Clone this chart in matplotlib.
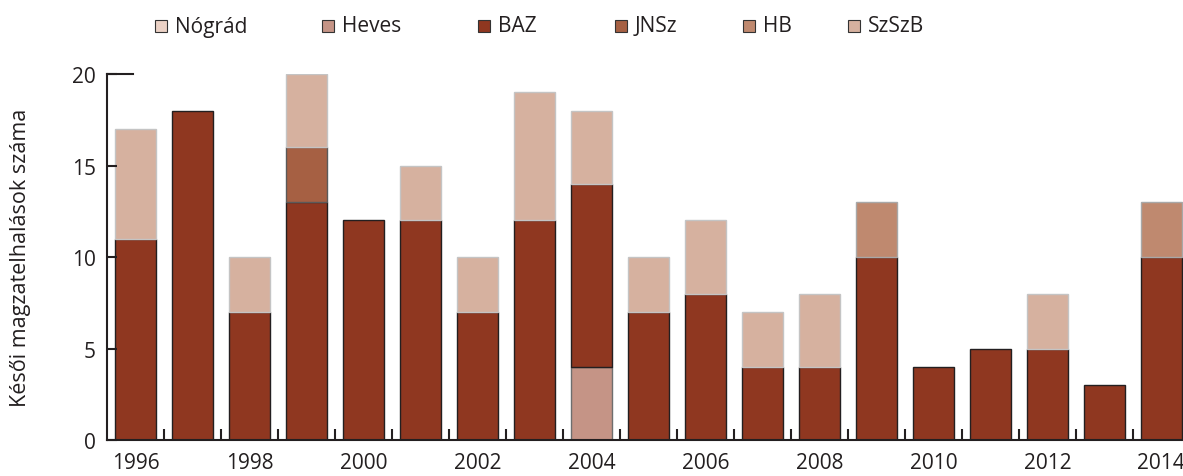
import numpy as np
import matplotlib
matplotlib.use("Agg")
import matplotlib.pyplot as plt
from matplotlib.patches import Rectangle

# Adatok (megyék szerinti késői magzatelhalások)
years = np.arange(1996, 2015)
nograd = [0, 0, 0, 0, 0, 0, 0, 0, 0, 0, 0, 0, 0, 0, 0, 0, 0, 0, 0]
heves = [0, 0, 0, 0, 0, 0, 0, 0, 4, 0, 0, 0, 0, 0, 0, 0, 0, 0, 0]
baz = [11, 18, 7, 13, 12, 12, 7, 12, 10, 7, 8, 4, 4, 10, 4, 5, 5, 3, 10]
jnsz = [0, 0, 0, 3, 0, 0, 0, 0, 0, 0, 0, 0, 0, 0, 0, 0, 0, 0, 0]
hb = [0, 0, 0, 0, 0, 0, 0, 0, 0, 0, 0, 0, 0, 3, 0, 0, 0, 0, 3]
szszb = [6, 0, 3, 4, 0, 3, 3, 7, 4, 3, 4, 3, 4, 0, 0, 0, 3, 0, 0]

series = [
    ("Nógrád", nograd, "#ecd2c6", "#555555"),
    ("Heves", heves, "#c59486", "#6e6e6e"),
    ("BAZ", baz, "#8f3720", "#231f20"),
    ("JNSz", jnsz, "#a66043", "#5a5a5a"),
    ("HB", hb, "#bf896f", "#a8a8a8"),
    ("SzSzB", szszb, "#d6b19f", "#c4c4c4"),
]
# jelmagyarázat elemeinek bal széle (pixel)
legend_x = [155, 322, 478, 615, 743, 848]

plt.rcParams["font.family"] = ["Open Sans", "DejaVu Sans"]

W, H = 1183, 477
fig = plt.figure(figsize=(W / 100, H / 100), dpi=100)
ax = fig.add_axes([0.0905, 0.0755, 0.9095, 0.767])

bottom = np.zeros(len(years))
for name, vals, col, edge in series:
    vals = np.array(vals, dtype=float)
    mask = vals > 0
    ax.bar(years[mask], vals[mask], width=0.72, bottom=bottom[mask],
           color=col, edgecolor=edge, linewidth=1.0)
    bottom += vals

ax.set_xlim(1995.5, 2014.38)
ax.set_ylim(0, 20)

# tengelyek
for s in ["top", "right"]:
    ax.spines[s].set_visible(False)
for s in ["left", "bottom"]:
    ax.spines[s].set_linewidth(1.5)
    ax.spines[s].set_color("#231f20")
ax.axhline(20, xmin=0, xmax=0.024, color="#231f20", linewidth=1.5, clip_on=False)

ax.set_yticks([0, 5, 10, 15, 20])
ax.tick_params(axis="y", direction="in", length=7, width=1.5, color="#231f20",
               labelsize=15, pad=8, labelcolor="#231f20")
ax.set_xticks(years[::2])
ax.set_xticks(np.arange(1996.5, 2014, 1), minor=True)
ax.tick_params(axis="x", which="major", length=0, labelsize=15, pad=9,
               labelcolor="#231f20")
ax.tick_params(axis="x", which="minor", direction="in", length=8, width=1.5,
               color="#231f20")

ax.set_ylabel("Késői magzatelhalások száma", fontsize=15.5, color="#231f20")
ax.yaxis.set_label_coords(-0.0706, 0.5)

# jelmagyarázat
y_c = 1 - 27 / H
sq = 12
for (name, vals, col, edge), lx in zip(series, legend_x):
    fig.add_artist(Rectangle((lx / W, y_c - sq / 2 / H), sq / W, sq / H,
                             facecolor=col, edgecolor="#333333", linewidth=0.8,
                             transform=fig.transFigure))
    fig.text((lx + sq + 8) / W, y_c, name, fontsize=15, va="center",
             ha="left", color="#231f20")

fig.savefig("out.png", dpi=100)
